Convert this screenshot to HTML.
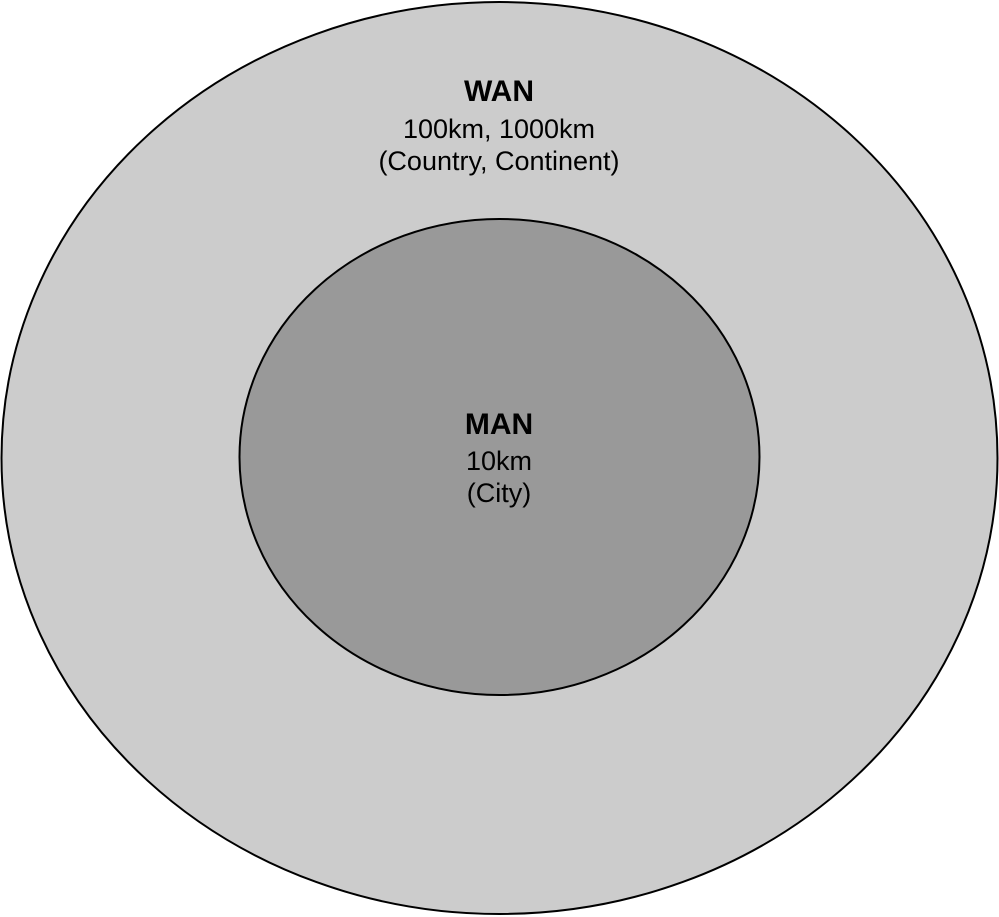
<!DOCTYPE html>
<html><head><meta charset="utf-8"><style>
html,body{margin:0;padding:0;background:#fff;width:999px;height:917px;overflow:hidden}
</style></head><body>
<svg width="999" height="917" viewBox="0 0 999 917" xmlns="http://www.w3.org/2000/svg">
<ellipse cx="499.5" cy="458" rx="498" ry="456" fill="#cccccc" stroke="#000" stroke-width="2"/>
<ellipse cx="499.5" cy="457" rx="260" ry="238" fill="#999999" stroke="#000" stroke-width="2"/>
<g font-family="Liberation Sans, sans-serif" fill="#000" text-anchor="middle">
<text x="499" y="101" font-size="30" font-weight="bold">WAN</text>
<text x="499" y="138" font-size="27">100km, 1000km</text>
<text x="499" y="170" font-size="27">(Country, Continent)</text>
<text x="499" y="434" font-size="30" font-weight="bold">MAN</text>
<text x="499" y="470" font-size="27">10km</text>
<text x="499" y="502" font-size="27">(City)</text>
</g>
</svg>
</body></html>
